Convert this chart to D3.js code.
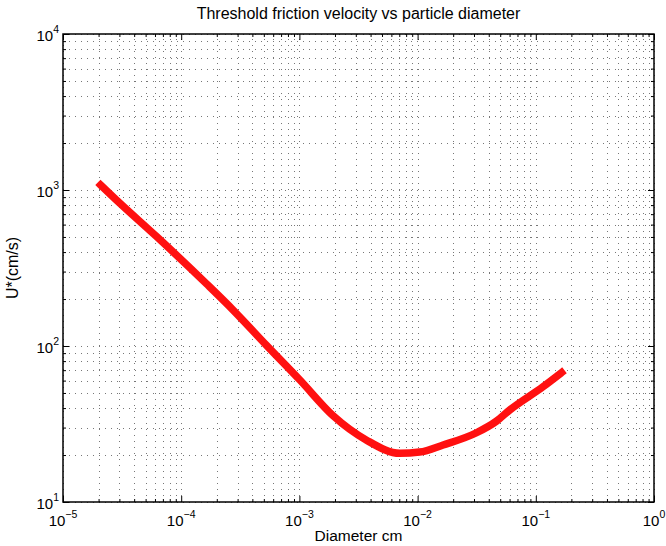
<!DOCTYPE html>
<html><head><meta charset="utf-8">
<script src="https://cdn.jsdelivr.net/npm/d3@7"></script>
<style>
html,body{margin:0;padding:0;background:#fff;}
text{font-family:"Liberation Sans",Arial,Helvetica,sans-serif;fill:#000;}
</style></head>
<body><div id="chart"></div>
<script>
const diameters = [2.08e-5, 3.03e-5, 6.19e-5, 1.64e-4, 2.75e-4, 5.27e-4, 1.01e-3, 1.93e-3, 3.70e-3, 7.08e-3, 1.04e-2, 1.644e-2, 3.15e-2, 4.65e-2, 6.02e-2, 1.15e-1, 1.65e-1];
const velocities = [1077, 822, 503, 250, 170, 101, 60.5, 35.7, 24.9, 20.5, 20.9, 23.2, 27.8, 33.0, 38.9, 54.8, 67.5];
const xTickExps = [-5, -4, -3, -2, -1, 0];
const yTickExps = [1, 2, 3, 4];
const titleText = "Threshold friction velocity vs particle diameter";
const xLabelText = "Diameter cm";
const yLabelText = "U*(cm/s)";

const W = 666, H = 546;
const m = {left: 63, right: 12, top: 34, bottom: 44};
const svg = d3.select("#chart").append("svg").attr("width", W).attr("height", H);
const x = d3.scaleLog().domain([1e-5, 1]).range([m.left, W - m.right]);
const y = d3.scaleLog().domain([10, 1e4]).range([H - m.bottom, m.top]);
const x0 = x.range()[0], x1 = x.range()[1], y0 = y.range()[0], y1 = y.range()[1];

const xMajor = xTickExps.map(e => Math.pow(10, e));
const yMajor = yTickExps.map(e => Math.pow(10, e));
const xMinor = [], yMinor = [];
for (let i = 0; i < xTickExps.length - 1; i++) for (let k = 2; k <= 9; k++) xMinor.push(k * Math.pow(10, xTickExps[i]));
for (let i = 0; i < yTickExps.length - 1; i++) for (let k = 2; k <= 9; k++) yMinor.push(k * Math.pow(10, yTickExps[i]));

const grid = svg.append("g").attr("stroke", "#777").attr("stroke-width", 1).attr("stroke-dasharray", "1,5");
grid.selectAll(".gx").data(xMajor.concat(xMinor)).enter().append("line")
  .attr("x1", d => Math.round(x(d)) + 0.5).attr("x2", d => Math.round(x(d)) + 0.5)
  .attr("y1", y0).attr("y2", y1);
grid.selectAll(".gy").data(yMajor.concat(yMinor)).enter().append("line")
  .attr("y1", d => Math.round(y(d)) + 0.5).attr("y2", d => Math.round(y(d)) + 0.5)
  .attr("x1", x0).attr("x2", x1);

const line = d3.line().x((d, i) => x(diameters[i])).y((d, i) => y(velocities[i])).curve(d3.curveMonotoneX);
svg.append("path").datum(velocities).attr("d", line)
  .attr("fill", "none").attr("stroke", "#ff1010").attr("stroke-width", 7.5)
  .attr("stroke-linecap", "square").attr("stroke-linejoin", "round");

function tickAxis(axisFn, scale, vals, size, transform) {
  const g = svg.append("g").attr("transform", transform)
    .call(axisFn(scale).tickValues(vals).tickSize(size).tickFormat(""));
  g.select(".domain").remove();
  g.selectAll("line").attr("stroke", "#000");
  return g;
}
tickAxis(d3.axisTop, x, xMajor, 6, `translate(0,${y0})`);
tickAxis(d3.axisTop, x, xMinor, 3, `translate(0,${y0})`);
tickAxis(d3.axisBottom, x, xMajor, 6, `translate(0,${y1})`);
tickAxis(d3.axisBottom, x, xMinor, 3, `translate(0,${y1})`);
tickAxis(d3.axisRight, y, yMajor, 6, `translate(${x0},0)`);
tickAxis(d3.axisRight, y, yMinor, 3, `translate(${x0},0)`);
tickAxis(d3.axisLeft, y, yMajor, 6, `translate(${x1},0)`);
tickAxis(d3.axisLeft, y, yMinor, 3, `translate(${x1},0)`);

svg.append("rect").attr("x", x0).attr("y", y1).attr("width", x1 - x0).attr("height", y0 - y1)
  .attr("fill", "none").attr("stroke", "#000").attr("stroke-width", 1.5);

xTickExps.forEach(e => {
  const t = svg.append("text").attr("x", x(Math.pow(10, e))).attr("y", y0 + 24)
    .attr("text-anchor", "middle").attr("font-size", 15);
  t.append("tspan").text("10");
  t.append("tspan").attr("dy", -8).attr("font-size", 10.5).text(e < 0 ? "\u2212" + (-e) : String(e));
});
yTickExps.forEach(e => {
  const t = svg.append("text").attr("x", x0 - 4).attr("y", y(Math.pow(10, e)) + 7)
    .attr("text-anchor", "end").attr("font-size", 15);
  t.append("tspan").text("10");
  t.append("tspan").attr("dy", -8).attr("font-size", 10.5).text(String(e));
});

svg.append("text").attr("x", (x0 + x1) / 2).attr("y", 19).attr("text-anchor", "middle")
  .attr("font-size", 16).text(titleText);
svg.append("text").attr("x", (x0 + x1) / 2).attr("y", 541).attr("text-anchor", "middle")
  .attr("font-size", 15.5).text(xLabelText);
svg.append("text").attr("transform", `translate(18,${(y0 + y1) / 2}) rotate(-90)`)
  .attr("text-anchor", "middle").attr("font-size", 16).text(yLabelText);
</script></body></html>
